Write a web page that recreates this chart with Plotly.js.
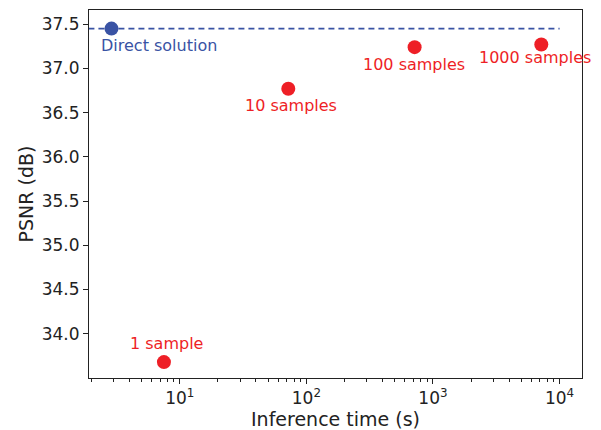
<!DOCTYPE html>
<html>
<head>
<meta charset="utf-8">
<script src="https://cdn.plot.ly/plotly-3.0.1.min.js"></script>
<style>html,body{margin:0;padding:0;background:#fff}#chart{width:601px;height:430px}</style>
</head>
<body>
<div id="chart"></div>
<script>
// Data
const sampleLabels = ["1 sample", "10 samples", "100 samples", "1000 samples"];
const sampleTimes = [7.5, 72, 716, 7170];
const samplePSNR = [33.68, 36.77, 37.24, 37.27];

const directLabel = "Direct solution";
const directTime = [2.89];
const directPSNR = [37.45];
const directLineX = [1.9, 10000];

const xTickVals = [10, 100, 1000, 10000];
const xTickText = ["10<sup>1</sup>", "10<sup>2</sup>", "10<sup>3</sup>", "10<sup>4</sup>"];
const xMinorDecades = [1, 10, 100, 1000, 10000];
const xMinorMultipliers = [2, 3, 4, 5, 6, 7, 8, 9];
const yTickVals = [34.0, 34.5, 35.0, 35.5, 36.0, 36.5, 37.0, 37.5];

const BLUE = "#3953a4";
const RED = "#ee1f26";
const FONT = "DejaVu Sans, sans-serif";

const minorVals = [];
xMinorDecades.forEach(d => xMinorMultipliers.forEach(m => minorVals.push(d * m)));

const traces = [
  {
    x: directLineX, y: [directPSNR[0], directPSNR[0]],
    mode: "lines", line: {color: BLUE, width: 1.6, dash: "6px,4px"},
    hoverinfo: "skip", showlegend: false
  },
  {
    x: directTime, y: directPSNR, mode: "markers",
    marker: {color: BLUE, size: 14}, showlegend: false, cliponaxis: false
  },
  {
    x: sampleTimes, y: samplePSNR, mode: "markers",
    marker: {color: RED, size: 14}, showlegend: false, cliponaxis: false
  }
];

// label offsets (pixels) relative to each point
const labelShift = [[3, 19], [3, -17], [-1, -17], [-6, -13]];
const annotations = sampleLabels.map((t, i) => ({
  x: Math.log10(sampleTimes[i]), y: samplePSNR[i], xref: "x", yref: "y",
  text: t, showarrow: false, xshift: labelShift[i][0], yshift: labelShift[i][1],
  font: {family: FONT, size: 16, color: RED}, xanchor: "center", yanchor: "middle"
}));
annotations.push({
  x: Math.log10(directTime[0]), y: directPSNR[0], xref: "x", yref: "y",
  text: directLabel, showarrow: false, xshift: -12, yshift: -17,
  font: {family: FONT, size: 16, color: BLUE}, xanchor: "left", yanchor: "middle"
});

const layout = {
  width: 601, height: 430,
  margin: {l: 88.5, r: 19.3, t: 10.3, b: 51.7},
  paper_bgcolor: "#fff", plot_bgcolor: "#fff",
  font: {family: FONT, color: "#222"},
  showlegend: false,
  xaxis: {
    type: "log", range: [Math.log10(1.92), Math.log10(15030)],
    tickvals: xTickVals, ticktext: xTickText,
    ticks: "outside", ticklen: 5, tickwidth: 1, tickcolor: "#222",
    minor: {tickvals: minorVals, ticks: "outside", ticklen: 3, tickwidth: 1, tickcolor: "#222", showgrid: false},
    showgrid: false, zeroline: false,
    showline: true, linecolor: "#222", linewidth: 1, mirror: true,
    tickfont: {family: FONT, size: 17, color: "#222"},
    title: {text: "Inference time (s)", font: {family: FONT, size: 19, color: "#222"}, standoff: 6}
  },
  yaxis: {
    range: [33.5, 37.66],
    tickvals: yTickVals, ticktext: yTickVals.map(v => v.toFixed(1)),
    ticks: "outside", ticklen: 5, tickwidth: 1, tickcolor: "#222",
    showgrid: false, zeroline: false,
    showline: true, linecolor: "#222", linewidth: 1, mirror: true,
    tickfont: {family: FONT, size: 17, color: "#222"},
    title: {text: "PSNR (dB)", font: {family: FONT, size: 19, color: "#222"}, standoff: 3}
  },
  annotations: annotations
};

Plotly.newPlot("chart", traces, layout, {displayModeBar: false, staticPlot: true});
</script>
</body>
</html>
